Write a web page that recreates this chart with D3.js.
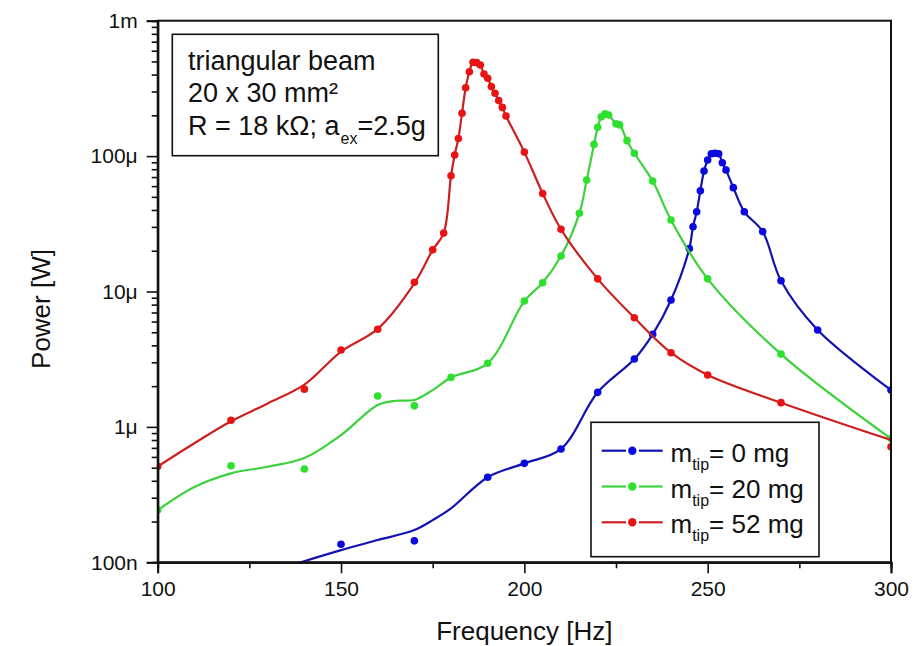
<!DOCTYPE html>
<html lang="en">
  <head>
    <meta charset="UTF-8" />
    <title>Power vs frequency</title>
    <script src="https://cdnjs.cloudflare.com/ajax/libs/d3/7.8.5/d3.min.js"></script>
    <style>
      body,
      html {
        margin: 0;
        padding: 0;
        background: #fff;
      }
      svg {
        display: block;
      }
      text {
        font-family: "Liberation Sans", Arial, sans-serif;
        fill: #111;
      }
    </style>
  </head>
  <body>
    <svg width="922" height="646"></svg>
    <script type="text/javascript">
      // measured points, frequency [Hz] and power [uW]
      const freqBlue = [150, 170, 190, 200, 210, 220, 230, 235, 240, 245, 246, 247, 248, 249, 250, 251, 252, 253, 254, 255, 257, 260, 265, 270, 280, 300];
      const powBlue = [0.136, 0.144, 0.425, 0.538, 0.687, 1.8, 3.17, 4.83, 8.65, 20.8, 30.1, 38.8, 55.5, 77.6, 93.5, 104, 105, 104, 89.3, 78.9, 58.5, 38.8, 27.7, 12.0, 5.2, 1.87];

      const freqGreen = [100, 120, 140, 160, 170, 180, 190, 200, 205, 210, 215, 217, 219, 220, 221, 222, 223, 225, 226, 228, 230, 235, 240, 250, 270, 300];
      const powGreen = [0.243, 0.517, 0.489, 1.69, 1.43, 2.32, 2.95, 8.5, 11.6, 18.3, 37.8, 66.5, 122, 163, 195, 205, 201, 173, 170, 130, 105, 65.5, 33.7, 12.4, 3.45, 0.82];

      const freqRed = [100, 120, 140, 150, 160, 170, 175, 178, 180, 181, 182, 183, 184, 185, 186, 187, 188, 189, 190, 191, 192, 193, 194, 195, 200, 205, 210, 220, 230, 240, 250, 270, 300];
      const powRed = [0.51, 1.12, 1.9, 3.7, 5.26, 11.7, 20.3, 27, 71.6, 102, 135, 207, 320, 420, 493, 490, 471, 404, 376, 326, 291, 257, 229, 198, 107, 53, 28.8, 12.4, 6.4, 3.53, 2.42, 1.51, 0.714];

      // fitted curve where it leaves the points
      const fitBlueFreq = [139, 150, 160, 170, 175, 180];
      const fitBluePow = [0.1, 0.123, 0.146, 0.173, 0.205, 0.25];
      const fitGreenFreq = [100, 110, 120, 130, 140, 150, 160, 165, 170, 175];
      const fitGreenPow = [0.243, 0.36, 0.454, 0.508, 0.59, 0.87, 1.45, 1.56, 1.58, 1.87];
      const fitRedFreq = [100, 110, 120, 130, 140, 150, 160, 170];
      const fitRedPow = [0.51, 0.757, 1.1, 1.49, 2.05, 3.6, 5.3, 11.5];
      const fitRedTailFreq = [300];
      const fitRedTailPow = [0.8];

      const seriesNames = ["0 mg", "20 mg", "52 mg"];
      const lineColors = ["#1212b0", "#3cd23c", "#cc2020"];
      const dotColors = ["#0a0ae0", "#2ee02e", "#e81414"];

      const xTicks = [100, 150, 200, 250, 300];
      const xMinorTicks = [125, 175, 225, 275];
      const yTicks = [0.1, 1, 10, 100, 1000];
      const yTickLabels = ["100n", "1\u03bc", "10\u03bc", "100\u03bc", "1m"];

      const svg = d3.select("svg");
      const margin = { left: 157.7, right: 31, top: 20.7, bottom: 83.7 };
      const width = 922, height = 646;

      const x = d3.scaleLinear().domain([100, 300]).range([margin.left, width - margin.right]);
      const y = d3.scaleLog().domain([0.1, 1000]).range([height - margin.bottom, margin.top]);

      const zip = (f, p) => f.map((d, i) => ({ f: d, p: p[i] }));

      function fitLine(lowF, lowP, pts, highF, highP) {
        const low = zip(lowF, lowP);
        const high = zip(highF || [], highP || []);
        const lo = lowF[lowF.length - 1];
        const hi = high.length ? highF[0] : Infinity;
        return low.concat(pts.filter((d) => d.f > lo && d.f < hi)).concat(high);
      }

      const series = [
        { pts: zip(freqBlue, powBlue) },
        { pts: zip(freqGreen, powGreen) },
        { pts: zip(freqRed, powRed) },
      ];
      series[0].fit = fitLine(fitBlueFreq, fitBluePow, series[0].pts);
      series[1].fit = fitLine(fitGreenFreq, fitGreenPow, series[1].pts);
      series[2].fit = fitLine(fitRedFreq, fitRedPow, series[2].pts, fitRedTailFreq, fitRedTailPow);

      svg.append("defs").append("clipPath").attr("id", "plotClip")
        .append("rect")
        .attr("x", margin.left).attr("y", margin.top)
        .attr("width", width - margin.left - margin.right)
        .attr("height", height - margin.top - margin.bottom);

      const plot = svg.append("g").attr("clip-path", "url(#plotClip)");

      const line = d3.line()
        .x((d) => x(d.f))
        .y((d) => y(d.p))
        .curve(d3.curveCatmullRom.alpha(0.5));

      series.forEach((s, i) => {
        const g = plot.append("g");
        g.append("path")
          .datum(s.fit)
          .attr("d", line)
          .attr("fill", "none")
          .attr("stroke", lineColors[i])
          .attr("stroke-width", 2.2)
          .attr("stroke-linejoin", "round");
        g.selectAll("circle")
          .data(s.pts)
          .join("circle")
          .attr("cx", (d) => x(d.f))
          .attr("cy", (d) => y(d.p))
          .attr("r", 3.8)
          .attr("fill", dotColors[i]);
      });

      // frame
      svg.append("rect")
        .attr("x", margin.left).attr("y", margin.top)
        .attr("width", width - margin.left - margin.right)
        .attr("height", height - margin.top - margin.bottom)
        .attr("fill", "none")
        .attr("stroke", "#111")
        .attr("stroke-width", 2);

      // axes
      svg.append("g")
        .attr("transform", `translate(0,${height - margin.bottom})`)
        .call(d3.axisBottom(x).tickValues(xTicks).tickSize(11).tickPadding(8).tickFormat(d3.format("d")));
      svg.append("g")
        .attr("transform", `translate(0,${height - margin.bottom})`)
        .call(d3.axisBottom(x).tickValues(xMinorTicks).tickSize(6).tickFormat(""));

      const yMinor = [];
      yTicks.slice(0, -1).forEach((t) => {
        for (let k = 2; k <= 9; k++) yMinor.push(t * k);
      });
      svg.append("g")
        .attr("transform", `translate(${margin.left},0)`)
        .call(d3.axisLeft(y).tickValues(yTicks).tickSize(11).tickPadding(9)
          .tickFormat((d, i) => yTickLabels[i]));
      svg.append("g")
        .attr("transform", `translate(${margin.left},0)`)
        .call(d3.axisLeft(y).tickValues(yMinor).tickSize(6).tickFormat(""));

      svg.selectAll(".domain").attr("stroke", "#111").attr("stroke-width", 2);
      svg.selectAll(".tick line").attr("stroke", "#111").attr("stroke-width", 1.6);
      svg.selectAll(".tick text")
        .attr("font-family", "Liberation Sans, Arial, sans-serif")
        .attr("font-size", 21)
        .attr("fill", "#111");

      // axis titles
      svg.append("text")
        .attr("x", (margin.left + width - margin.right) / 2)
        .attr("y", 640)
        .attr("text-anchor", "middle")
        .attr("font-size", 26)
        .text("Frequency [Hz]");
      svg.append("text")
        .attr("transform", "translate(50,309) rotate(-90)")
        .attr("text-anchor", "middle")
        .attr("font-size", 26)
        .text("Power [W]");

      // annotation box
      svg.append("rect")
        .attr("x", 172.3).attr("y", 34.3)
        .attr("width", 266).attr("height", 121.4)
        .attr("fill", "#fff")
        .attr("stroke", "#111")
        .attr("stroke-width", 1.6);
      const note = svg.append("g").attr("font-size", 27);
      note.append("text").attr("x", 188).attr("y", 69.5).text("triangular beam");
      note.append("text").attr("x", 188).attr("y", 102).text("20 x 30 mm\u00b2");
      const r3 = note.append("text").attr("x", 188).attr("y", 135);
      r3.append("tspan").text("R = 18 k\u03a9; a");
      r3.append("tspan").attr("dy", 9).attr("dx", 1).attr("font-size", 16).text("ex");
      r3.append("tspan").attr("dy", -9).attr("dx", 0).text("=2.5g");

      // legend
      svg.append("rect")
        .attr("x", 591).attr("y", 422.3)
        .attr("width", 228).attr("height", 134.4)
        .attr("fill", "#fff")
        .attr("stroke", "#111")
        .attr("stroke-width", 1.6);
      const legend = svg.append("g")
        .selectAll("g")
        .data(seriesNames)
        .join("g")
        .attr("transform", (d, i) => `translate(0,${450.7 + i * 35.8})`);
      legend.append("line")
        .attr("x1", 601.7).attr("x2", 626).attr("y1", 0).attr("y2", 0)
        .attr("stroke", (d, i) => lineColors[i]).attr("stroke-width", 2.2);
      legend.append("line")
        .attr("x1", 639).attr("x2", 662.7).attr("y1", 0).attr("y2", 0)
        .attr("stroke", (d, i) => lineColors[i]).attr("stroke-width", 2.2);
      legend.append("circle")
        .attr("cx", 632.3).attr("cy", 0).attr("r", 4.2)
        .attr("fill", (d, i) => dotColors[i]);
      const lt = legend.append("text").attr("x", 670.5).attr("y", 11).attr("font-size", 26);
      lt.append("tspan").text("m");
      lt.append("tspan").attr("dy", 8).attr("font-size", 16).text("tip");
      lt.append("tspan").attr("dy", -8).text((d) => "= " + d);
    </script>
  </body>
</html>
